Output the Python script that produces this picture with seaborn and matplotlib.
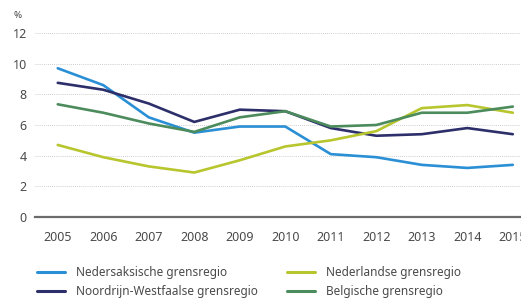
import matplotlib.pyplot as plt
import pandas as pd
import seaborn as sns

# data
years = list(range(2005, 2016))
nedersaksisch = [9.7, 8.6, 6.5, 5.5, 5.9, 5.9, 4.1, 3.9, 3.4, 3.2, 3.4]
noordrijn_westfaals = [8.75, 8.3, 7.4, 6.2, 7.0, 6.9, 5.8, 5.3, 5.4, 5.8, 5.4]
nederlands = [4.7, 3.9, 3.3, 2.9, 3.7, 4.6, 5.0, 5.6, 7.1, 7.3, 6.8]
belgisch = [7.35, 6.8, 6.1, 5.55, 6.5, 6.9, 5.9, 6.0, 6.8, 6.8, 7.2]

series = {
    'Nedersaksische grensregio': nedersaksisch,
    'Noordrijn-Westfaalse grensregio': noordrijn_westfaals,
    'Nederlandse grensregio': nederlands,
    'Belgische grensregio': belgisch,
}
colors = {
    'Nedersaksische grensregio': '#2a8fd4',
    'Noordrijn-Westfaalse grensregio': '#2c2f6a',
    'Nederlandse grensregio': '#b8c62e',
    'Belgische grensregio': '#4b8b5c',
}

df = pd.concat(
    [pd.DataFrame({'jaar': years, 'waarde': v, 'regio': k}) for k, v in series.items()],
    ignore_index=True,
)

sns.set_style('white')
plt.rcParams['font.family'] = ['Noto Sans', 'DejaVu Sans']

fig = plt.figure(figsize=(5.21, 3.01), dpi=100)
ax = fig.add_axes([35 / 521, 1 - 217 / 301, 1 - 35 / 521, 184 / 301])

sns.lineplot(data=df, x='jaar', y='waarde', hue='regio', palette=colors,
             linewidth=1.9, legend=False, ax=ax)

ax.set_xlim(2004.5, 2015.18)
ax.set_ylim(0, 12)
ax.set_xticks(years)
ax.set_yticks(range(0, 13, 2))
ax.set_xlabel('')
ax.set_ylabel('')

ax.grid(axis='y', color='#bdbdbd', linestyle=(0, (1, 1.5)), linewidth=0.6)
ax.grid(axis='x', visible=False)
for s in ['top', 'right', 'left']:
    ax.spines[s].set_visible(False)
ax.spines['bottom'].set_color('#6b6b6b')
ax.spines['bottom'].set_linewidth(1.6)

ax.tick_params(axis='x', length=3, width=0.8, color='#8a8a8a', labelsize=9, labelcolor='#4a4a4a', pad=7)
ax.tick_params(axis='y', length=0, labelsize=9, labelcolor='#4a4a4a', pad=6)

fig.text(18 / 521, 1 - 15 / 301, '%', fontsize=7, color='#4a4a4a', ha='center', va='center')

handles = [plt.Line2D([], [], color=colors[k], linewidth=2.2) for k in series]
fig.legend(handles, list(series.keys()), ncol=2, loc='lower left',
           bbox_to_anchor=(26 / 521, -8 / 301), frameon=False, fontsize=8.5,
           labelcolor='#4a4a4a', handlelength=2.4, handletextpad=0.9,
           columnspacing=2.5, labelspacing=0.5)

fig.savefig('out.png', dpi=100)
